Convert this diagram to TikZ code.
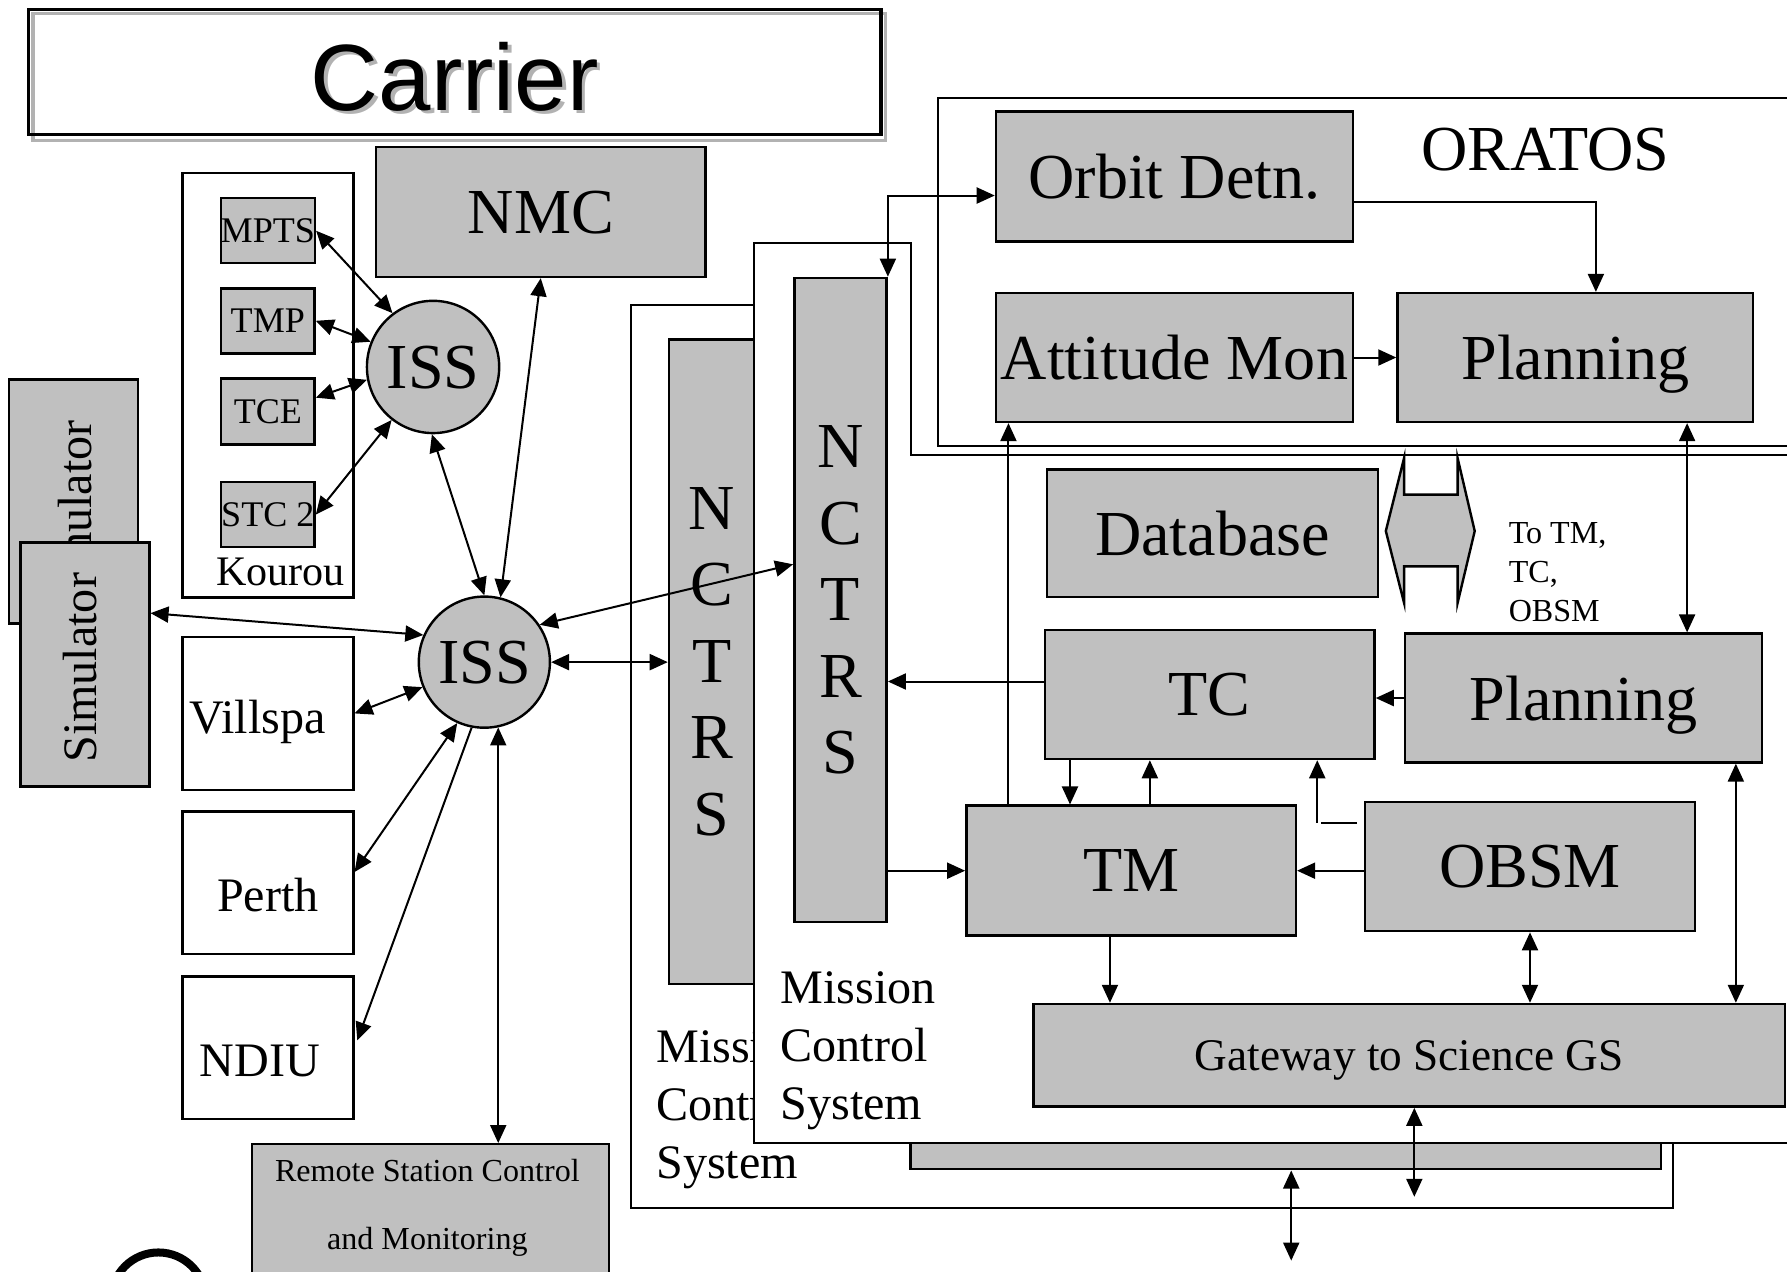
\documentclass[tikz,border=0pt]{standalone}
\usepackage{fontspec}
\setmainfont{Liberation Serif}
\newfontfamily\carrierfont{Liberation Sans}
\usepackage{xcolor}
\usetikzlibrary{arrows.meta,positioning}
\definecolor{boxgray}{RGB}{192,192,192}

\begin{document}
\begin{tikzpicture}[
    x=0.01cm, y=-0.01cm,
    line width=0.5pt,
    every node/.style={inner sep=0pt, align=center},
    every label/.style={font=\fontsize{12}{14}\selectfont, text depth=0pt},
    gbox/.style={draw, line width=0.6pt, fill=boxgray, text depth=0pt, font=\fontsize{16}{19}\selectfont},
    wbox/.style={draw, line width=0.6pt, fill=white, font=\fontsize{12}{14}\selectfont},
    sbox/.style={draw, line width=0.6pt, fill=boxgray, minimum width=0.82cm, minimum height=0.57cm, font=\fontsize{9}{10}\selectfont},
    iss/.style={draw, circle, line width=0.6pt, fill=boxgray, minimum size=1.16cm, text depth=0pt, font=\fontsize{16}{19}\selectfont},
    nctrsbox/.style={draw, line width=0.6pt, fill=boxgray, minimum height=5.65cm, font=\fontsize{16}{19.1}\selectfont},
    mcstext/.style={anchor=west, align=left, font=\fontsize{12}{14.5}\selectfont},
    arr/.style={-{Triangle[length=4.5pt,width=4pt]}},
    darr/.style={{Triangle[length=4.5pt,width=4pt]}-{Triangle[length=4.5pt,width=4pt]}},
]
\useasboundingbox (0,0) rectangle (1568,1116);

% Carrier banner
\draw[gray!60, line width=0.8pt] (29,12) rectangle (777,123);
\draw[line width=0.8pt] (25,8) rectangle (773,118);
\node (carriershadow) [text=gray!60, font=\carrierfont\fontsize{23.5}{28}\selectfont] at (402,70) {Carrier};
\node (carrier) [font=\carrierfont\fontsize{23.5}{28}\selectfont] at (399,67) {Carrier};

% Mission Control System (back copy)
\draw (662,268) -- (554,268) -- (554,1060) -- (1468,1060) -- (1468,1003);
\node (nctrsb) [nctrsbox, minimum width=0.75cm] at (624.5,580.5) {N\\C\\T\\R\\S};
\begin{scope}
  \clip (554,268) -- (662,268) -- (662,1003) -- (1468,1003) -- (1468,1060) -- (554,1060) -- cycle;
  \node (mcsbtext) [mcstext] at (575,974) {Mission\\Control\\System};
\end{scope}
\node (gwb) [draw, line width=0.6pt, fill=boxgray, minimum width=6.58cm, minimum height=0.23cm] at (1128,1014.5) {};
\draw[darr] ([xshift=0.05cm]gwb.south) -- ++(0,-0.79cm);

% ORATOS frame
\draw (1600,86) -- (823,86) -- (823,391) -- (1600,391);
\node (oratos) [font=\fontsize{16}{19}\selectfont] at (1356,131) {ORATOS};

% Mission Control System (front copy)
\draw[fill=white] (1600,399) -- (799,399) -- (799,213) -- (662,213) -- (662,1003) -- (1600,1003);
\node (nctrs) [nctrsbox, minimum width=0.81cm] at (737.5,526.5) {N\\C\\T\\R\\S};
\node (mcstext) [mcstext] at (684,922) {Mission\\Control\\System};

% ORATOS nodes
\node (orbit) [gbox, minimum width=3.13cm, minimum height=1.14cm] at (1030.5,155) {Orbit Detn.};
\node (att) [gbox, minimum width=3.13cm, minimum height=1.13cm, below=0.43cm of orbit] {Attitude Mon};
\node (plan1) [gbox, minimum width=3.12cm, minimum height=1.13cm, right=0.37cm of att] {Planning};

% MCS nodes
\node (db) [gbox, minimum width=2.90cm, minimum height=1.12cm] at (1064,468) {Database};
\node (tc) [gbox, minimum width=2.89cm, minimum height=1.13cm] at (1061.5,609.5) {TC};
\node (plan2) [gbox, minimum width=3.13cm, minimum height=1.13cm] at (1389.5,612.5) {Planning};
\node (tm) [gbox, minimum width=2.89cm, minimum height=1.14cm] at (992.5,764) {TM};
\node (obsm) [gbox, minimum width=2.89cm, minimum height=1.13cm] at (1342.5,760.5) {OBSM};
\node (gw) [gbox, minimum width=6.59cm, minimum height=0.90cm, font=\fontsize{11.3}{13}\selectfont] at (1236.5,926) {Gateway to Science GS};

% Database block arrow
\draw[line width=0.6pt, fill=boxgray] (1232,402) -- (1216,466) -- (1232,529) -- (1232,497) -- (1279,497) -- (1279,529)
    -- (1294,466) -- (1279,402) -- (1279,434) -- (1232,434) -- cycle;
\node (dbtargets) [anchor=west, align=left, font=\fontsize{8}{9.7}\selectfont] at (1323,502) {To TM,\\TC,\\OBSM};

% Ground stations
\node (kourou) [draw, line width=0.6pt, fill=white, minimum width=1.5cm, minimum height=3.72cm] at (235,338) {};
\node (kouroulbl) [font=\fontsize{10.5}{12}\selectfont] at (246,502) {Kourou};
\node (mpts) [sbox] at (235,202.5) {MPTS};
\node (tmp) [sbox] at (235,281.5) {TMP};
\node (tce) [sbox, minimum height=0.58cm] at (235,361) {TCE};
\node (stc) [sbox] at (235,451.5) {STC 2};
\node (nmc) [gbox, minimum width=2.89cm, minimum height=1.14cm] at (474.5,186) {NMC};
\node (isstop) [iss] at (380,322) {ISS};
\node (issb) [iss, minimum size=1.15cm] at (425,581) {ISS};

\node (simb) [gbox, minimum width=1.13cm, minimum height=2.14cm] at (64.5,440) {};
\node (simblbl) [rotate=90, font=\fontsize{12}{14}\selectfont] at (66,452) {Simulator};
\node (sim) [gbox, minimum width=1.13cm, minimum height=2.14cm] at (74.5,583) {};
\node (simlbl) [rotate=90, font=\fontsize{12}{14}\selectfont] at (70,586) {Simulator};

\node (villspa) [wbox, minimum width=1.5cm, minimum height=1.34cm, label={[yshift=-0.03cm, xshift=-0.09cm]center:Villspa}] at (235,626) {};
\node (perth) [wbox, minimum width=1.5cm, minimum height=1.25cm, label={[yshift=-0.11cm]center:Perth}] at (235,774.5) {};
\node (ndiu) [wbox, minimum width=1.5cm, minimum height=1.25cm, label={[yshift=-0.11cm, xshift=-0.07cm]center:NDIU}] at (235,919.5) {};

\node (rscm) [gbox, anchor=north west, minimum width=3.13cm, minimum height=1.4cm] at (220,1003) {};
\node (rscmlbl) [font=\fontsize{8}{17}\selectfont] at (375,1060) {Remote Station Control\\and Monitoring};
\draw[line width=2pt] (139,1140.5) circle (0.415cm);

% ISS links
\draw[darr] (mpts.east) -- (isstop.127);
\draw[darr] (tmp.east) -- (isstop.158);
\draw[darr] (tce.16) -- (isstop.191);
\draw[darr] (stc.east) -- (isstop.232);
\draw[darr] (isstop.269) -- (issb.north);
\draw[darr] (nmc.south) -- (issb.76);
\draw[darr] (sim.38) -- (issb.156);
\draw[darr] (villspa.east) -- (issb.202);
\draw[darr] (perth.7) -- (issb.246);
\draw[arr, shorten >=0.07cm] (issb.259) -- (ndiu.east);
\draw[darr] (issb.282) -- (issb.282 |- rscm.north);
\draw[darr] (issb.east) -- (issb.east -| nctrsb.west);
\draw[darr] (issb.34) -- (nctrs.143);

% ORATOS links
\draw[darr] (nctrs.north east) |- (orbit.186);
\draw[arr] (orbit.352) -| ([xshift=0.18cm]plan1.north);
\draw[arr] (att) -- (plan1);
\draw[arr] ([xshift=0.38cm]tm.north west) -- ([xshift=0.38cm]tm.north west |- att.south);
\draw[darr] ([xshift=0.98cm]plan1.south) -- ([xshift=0.98cm]plan1.south |- plan2.north);

% MCS links
\draw[arr] (plan2.west) -- (plan2.west -| tc.east);
\draw[arr] ([yshift=0.115cm]tc.west) -- ([yshift=0.115cm]tc.west -| nctrs.east);
\draw[arr] ([xshift=0.23cm]tc.south west) -- ([xshift=0.23cm]tc.south west |- tm.north);
\draw[arr] ([xshift=1.62cm]tm.north west) -- ([xshift=1.62cm]tm.north west |- tc.south);
\draw ([xshift=-0.06cm,yshift=0.385cm]obsm.west) -- ++(-0.32cm,0);
\draw[arr] ([xshift=-0.41cm,yshift=0.385cm]obsm.west) -- ([xshift=-0.41cm]obsm.west |- tc.south);
\draw[arr] (tm.east -| obsm.west) -- (tm.east);
\draw[arr] (nctrs.east |- tm.west) -- (tm.west);
\draw[arr] ([xshift=1.27cm]tm.south west) -- ([xshift=1.27cm]tm.south west |- gw.north);
\draw[darr] (obsm.south) -- (obsm.south |- gw.north);
\draw[darr] ([xshift=-0.24cm]plan2.south east) -- ([xshift=-0.24cm]plan2.south east |- gw.north);
\draw[darr] ([xshift=0.045cm]gw.south) -- ++(0,-0.78cm);
\end{tikzpicture}
\end{document}
